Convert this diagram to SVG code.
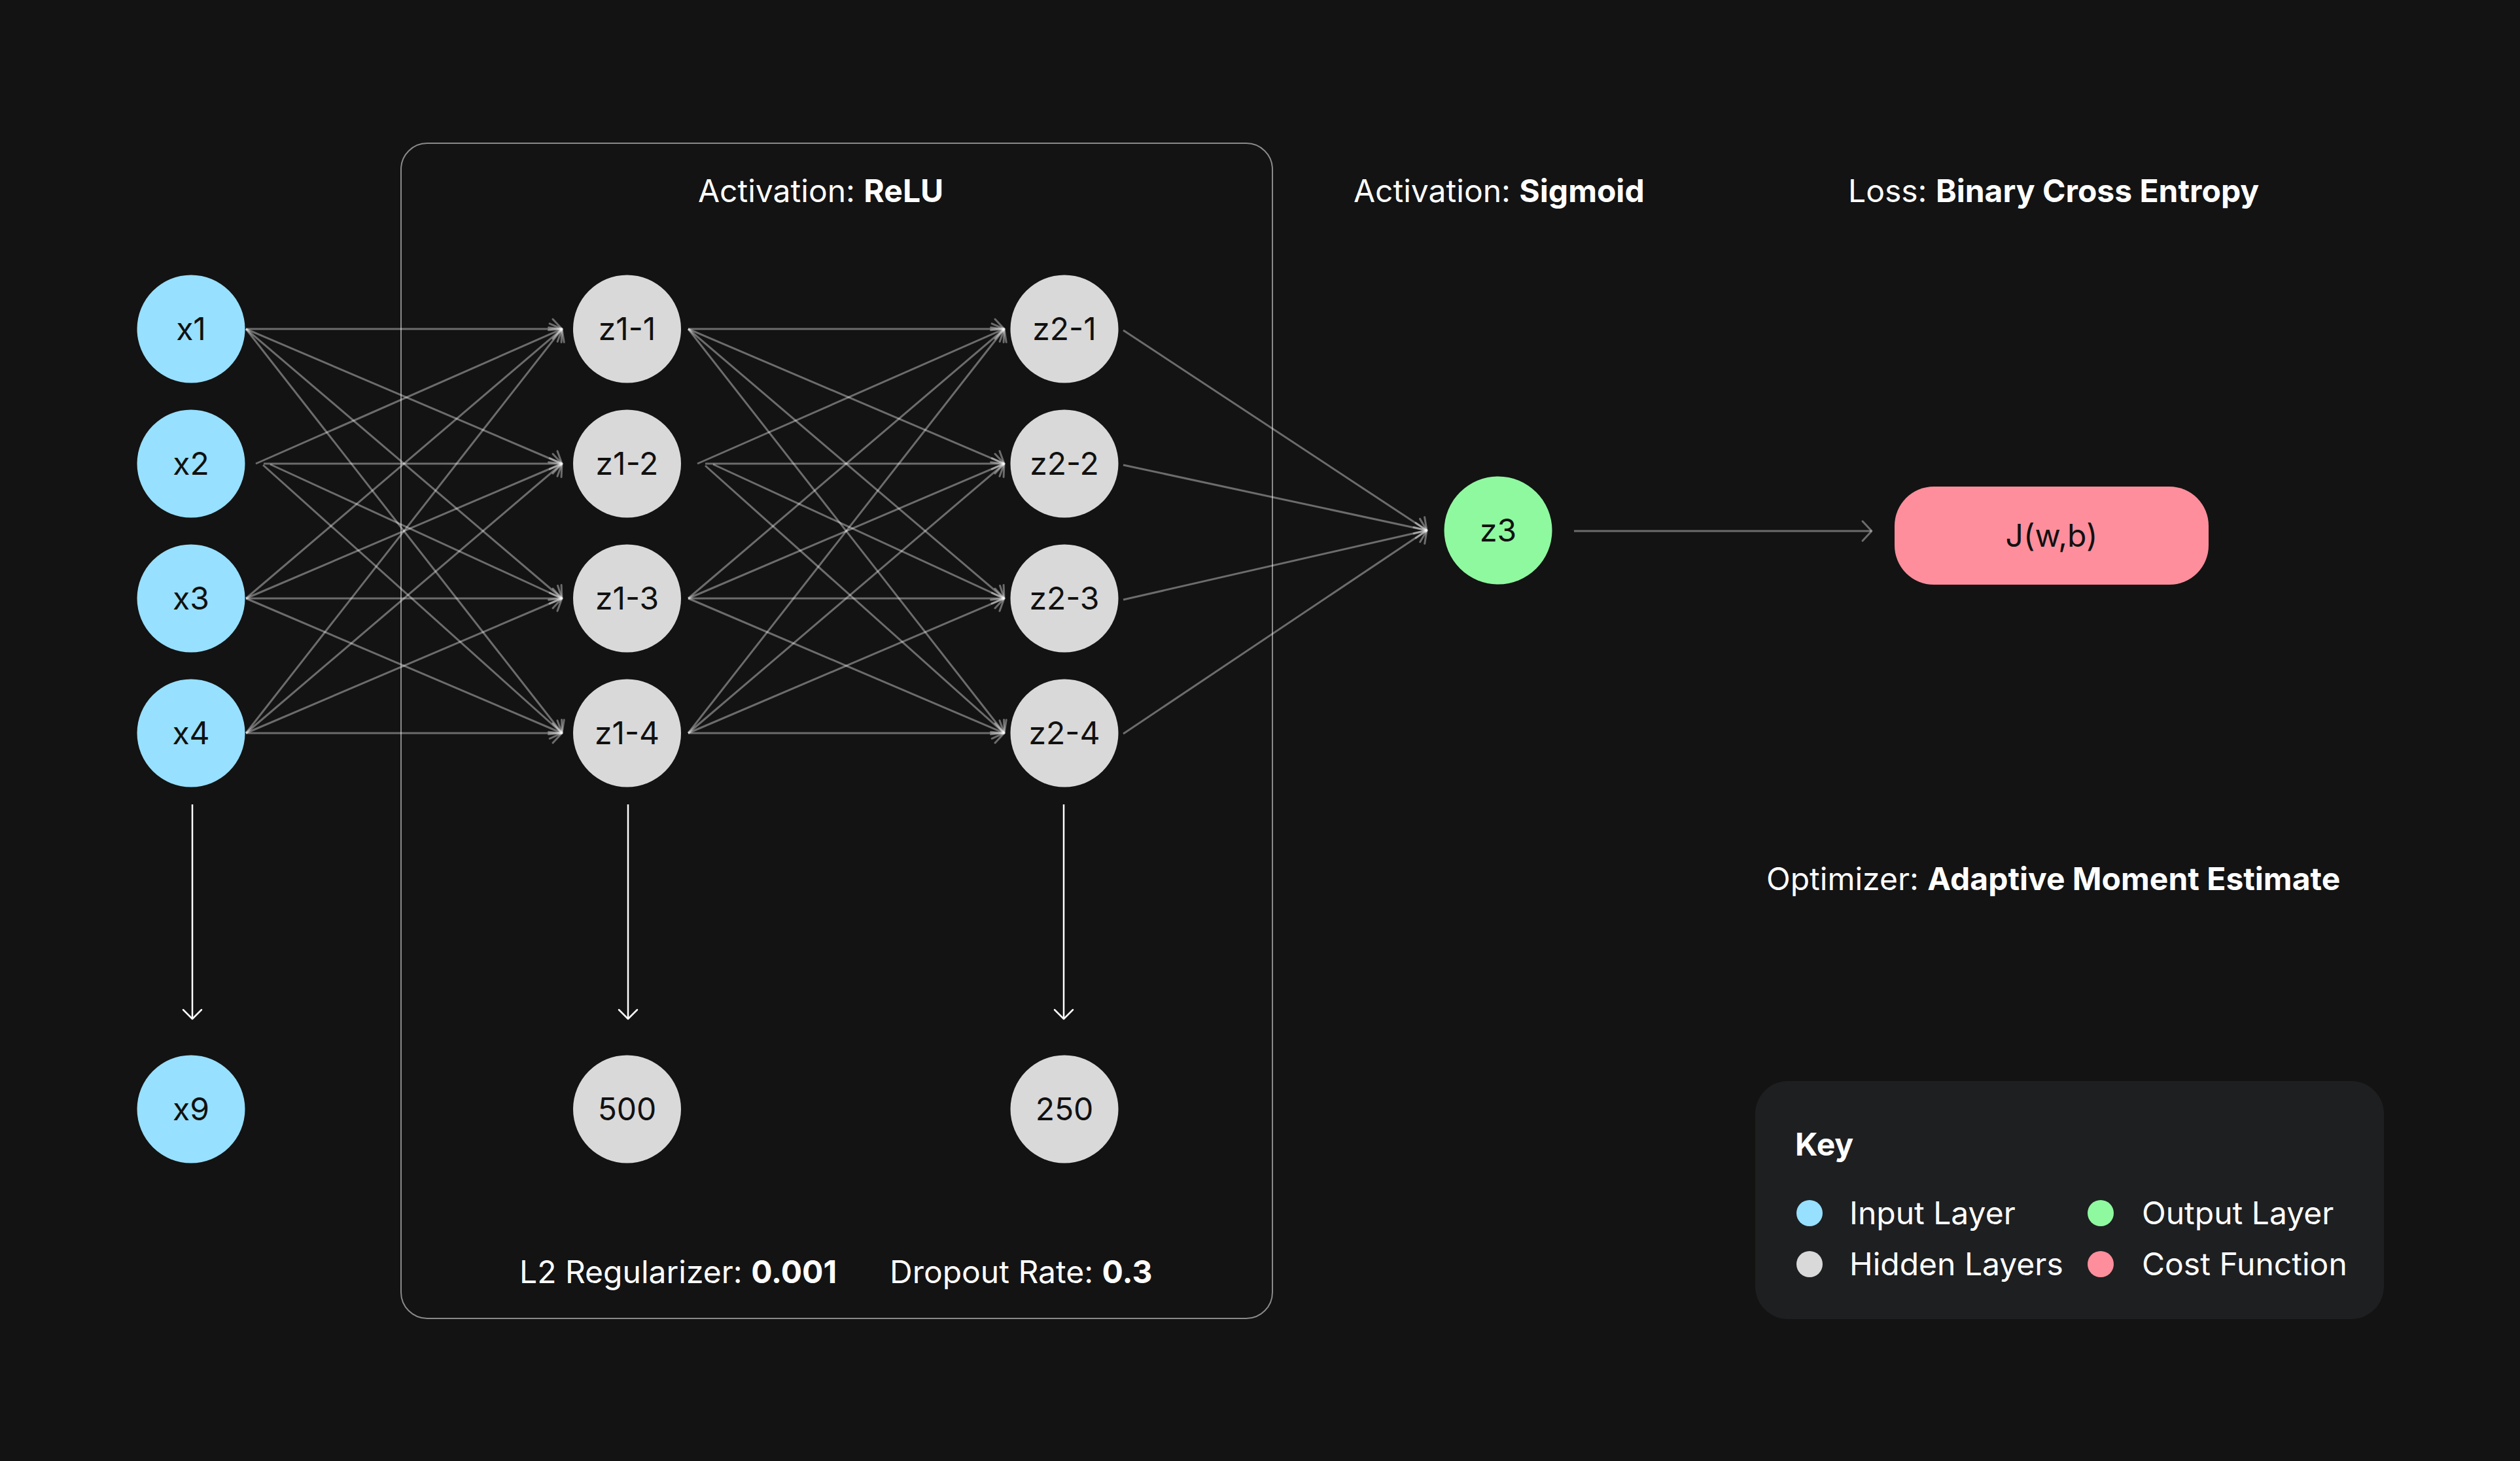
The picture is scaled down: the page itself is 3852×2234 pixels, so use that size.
<svg xmlns="http://www.w3.org/2000/svg" width="3852" height="2234" viewBox="0 0 3852 2234">
<defs>
<style>
.t{font-family:Inter,"Liberation Sans",sans-serif;font-size:48px;fill:#ffffff}
.b{font-weight:700}
.lbl{font-family:Inter,"Liberation Sans",sans-serif;font-size:48px;fill:#111111;text-anchor:middle}
.in{fill:#97E0FF}
.hid{fill:#D9D9D9}
.out{fill:#8FF9A0}
.cost{fill:#FF8E9C}
.c{stroke:#ffffff;stroke-opacity:0.38;stroke-width:3;fill:none;marker-end:url(#ah)}
.w{stroke:#ffffff;stroke-width:2.5;fill:none;marker-end:url(#wh)}
</style>
<marker id="ah" markerUnits="userSpaceOnUse" markerWidth="40" markerHeight="40" viewBox="-20 -20 40 40" refX="0" refY="0" orient="auto" overflow="visible">
<path d="M-14,-15 L0,0 L-14,15" fill="none" stroke="#ffffff" stroke-opacity="0.38" stroke-width="3" stroke-linecap="round" stroke-linejoin="round"/>
</marker>
<marker id="wh" markerUnits="userSpaceOnUse" markerWidth="40" markerHeight="40" viewBox="-20 -20 40 40" refX="0" refY="0" orient="auto" overflow="visible">
<path d="M-14,-14 L0,0 L-14,14" fill="none" stroke="#ffffff" stroke-width="2.5" stroke-linecap="round" stroke-linejoin="round"/>
</marker>
</defs>
<rect x="0" y="0" width="3852" height="2234" fill="#131313"/>

<g id="hidden-box">
<rect x="613" y="219" width="1332" height="1797" rx="40" ry="40" fill="none" stroke="#8a8a8a" stroke-width="2"/>
</g>

<g id="connectors">
<line class="c" x1="376" y1="503" x2="859" y2="503"/>
<line class="c" x1="376" y1="503" x2="859" y2="709"/>
<line class="c" x1="376" y1="503" x2="859" y2="915"/>
<line class="c" x1="376" y1="503" x2="859" y2="1121"/>
<line class="c" x1="391" y1="709" x2="859" y2="503"/>
<line class="c" x1="403" y1="709" x2="859" y2="709"/>
<line class="c" x1="413" y1="710" x2="859" y2="915"/>
<line class="c" x1="402" y1="711" x2="859" y2="1121"/>
<line class="c" x1="376" y1="915" x2="859" y2="503"/>
<line class="c" x1="376" y1="915" x2="859" y2="709"/>
<line class="c" x1="376" y1="915" x2="859" y2="915"/>
<line class="c" x1="376" y1="915" x2="859" y2="1121"/>
<line class="c" x1="376" y1="1121" x2="859" y2="503"/>
<line class="c" x1="376" y1="1121" x2="859" y2="709"/>
<line class="c" x1="376" y1="1121" x2="859" y2="915"/>
<line class="c" x1="376" y1="1121" x2="859" y2="1121"/>

<line class="c" x1="1052" y1="503" x2="1535" y2="503"/>
<line class="c" x1="1052" y1="503" x2="1535" y2="709"/>
<line class="c" x1="1052" y1="503" x2="1535" y2="915"/>
<line class="c" x1="1052" y1="503" x2="1535" y2="1121"/>
<line class="c" x1="1066" y1="709" x2="1535" y2="503"/>
<line class="c" x1="1078" y1="709" x2="1535" y2="709"/>
<line class="c" x1="1090" y1="710" x2="1535" y2="915"/>
<line class="c" x1="1078" y1="712" x2="1535" y2="1121"/>
<line class="c" x1="1052" y1="915" x2="1535" y2="503"/>
<line class="c" x1="1052" y1="915" x2="1535" y2="709"/>
<line class="c" x1="1052" y1="915" x2="1535" y2="915"/>
<line class="c" x1="1052" y1="915" x2="1535" y2="1121"/>
<line class="c" x1="1052" y1="1121" x2="1535" y2="503"/>
<line class="c" x1="1052" y1="1121" x2="1535" y2="709"/>
<line class="c" x1="1052" y1="1121" x2="1535" y2="915"/>
<line class="c" x1="1052" y1="1121" x2="1535" y2="1121"/>

<line class="c" x1="1717" y1="505" x2="2181" y2="811"/>
<line class="c" x1="1717" y1="711" x2="2181" y2="811"/>
<line class="c" x1="1717" y1="917" x2="2181" y2="811"/>
<line class="c" x1="1717" y1="1122" x2="2181" y2="811"/>

<line class="c" x1="2406" y1="812" x2="2861" y2="812"/>

<line class="w" x1="294" y1="1230" x2="294" y2="1558"/>
<line class="w" x1="960" y1="1230" x2="960" y2="1558"/>
<line class="w" x1="1626" y1="1230" x2="1626" y2="1558"/>
</g>

<g id="node-x1"><circle class="in" cx="292" cy="503" r="82.5"/><text class="lbl" x="292" y="520">x1</text></g>
<g id="node-x2"><circle class="in" cx="292" cy="709" r="82.5"/><text class="lbl" x="292" y="726">x2</text></g>
<g id="node-x3"><circle class="in" cx="292" cy="915" r="82.5"/><text class="lbl" x="292" y="932">x3</text></g>
<g id="node-x4"><circle class="in" cx="292" cy="1121" r="82.5"/><text class="lbl" x="292" y="1138">x4</text></g>
<g id="node-x9"><circle class="in" cx="292" cy="1696" r="82.5"/><text class="lbl" x="292" y="1713">x9</text></g>

<g id="node-z1-1"><circle class="hid" cx="958.5" cy="503" r="82.5"/><text class="lbl" x="958.5" y="520">z1-1</text></g>
<g id="node-z1-2"><circle class="hid" cx="958.5" cy="709" r="82.5"/><text class="lbl" x="958.5" y="726">z1-2</text></g>
<g id="node-z1-3"><circle class="hid" cx="958.5" cy="915" r="82.5"/><text class="lbl" x="958.5" y="932">z1-3</text></g>
<g id="node-z1-4"><circle class="hid" cx="958.5" cy="1121" r="82.5"/><text class="lbl" x="958.5" y="1138">z1-4</text></g>
<g id="node-500"><circle class="hid" cx="958.5" cy="1696" r="82.5"/><text class="lbl" x="958.5" y="1713">500</text></g>

<g id="node-z2-1"><circle class="hid" cx="1627" cy="503" r="82.5"/><text class="lbl" x="1627" y="520">z2-1</text></g>
<g id="node-z2-2"><circle class="hid" cx="1627" cy="709" r="82.5"/><text class="lbl" x="1627" y="726">z2-2</text></g>
<g id="node-z2-3"><circle class="hid" cx="1627" cy="915" r="82.5"/><text class="lbl" x="1627" y="932">z2-3</text></g>
<g id="node-z2-4"><circle class="hid" cx="1627" cy="1121" r="82.5"/><text class="lbl" x="1627" y="1138">z2-4</text></g>
<g id="node-250"><circle class="hid" cx="1627" cy="1696" r="82.5"/><text class="lbl" x="1627" y="1713">250</text></g>

<g id="node-z3"><circle class="out" cx="2290" cy="811" r="82.5"/><text class="lbl" x="2290" y="828">z3</text></g>

<g id="node-cost"><rect class="cost" x="2896" y="744" width="480" height="150" rx="60" ry="60"/><text class="lbl" x="3136" y="836">J(w,b)</text></g>

<g id="labels">
<text class="t" x="1067" y="309">Activation: <tspan class="b">ReLU</tspan></text>
<text class="t" x="2069" y="309">Activation: <tspan class="b">Sigmoid</tspan></text>
<text class="t" x="2825" y="309">Loss: <tspan class="b">Binary Cross Entropy</tspan></text>
<text class="t" x="2700" y="1361">Optimizer: <tspan class="b">Adaptive Moment Estimate</tspan></text>
<text class="t" x="794" y="1962">L2 Regularizer: <tspan class="b">0.001</tspan></text>
<text class="t" x="1360" y="1962">Dropout Rate: <tspan class="b">0.3</tspan></text>
</g>

<g id="key">
<rect x="2683" y="1653" width="961" height="364" rx="50" ry="50" fill="#1E1F21"/>
<text class="t b" x="2744" y="1767">Key</text>
<circle class="in" cx="2766" cy="1855" r="20"/>
<text class="t" x="2827" y="1872">Input Layer</text>
<circle class="out" cx="3211" cy="1855" r="20"/>
<text class="t" x="3274" y="1872">Output Layer</text>
<circle class="hid" cx="2766" cy="1933" r="20"/>
<text class="t" x="2827" y="1950">Hidden Layers</text>
<circle class="cost" cx="3211" cy="1933" r="20"/>
<text class="t" x="3274" y="1950">Cost Function</text>
</g>
</svg>
